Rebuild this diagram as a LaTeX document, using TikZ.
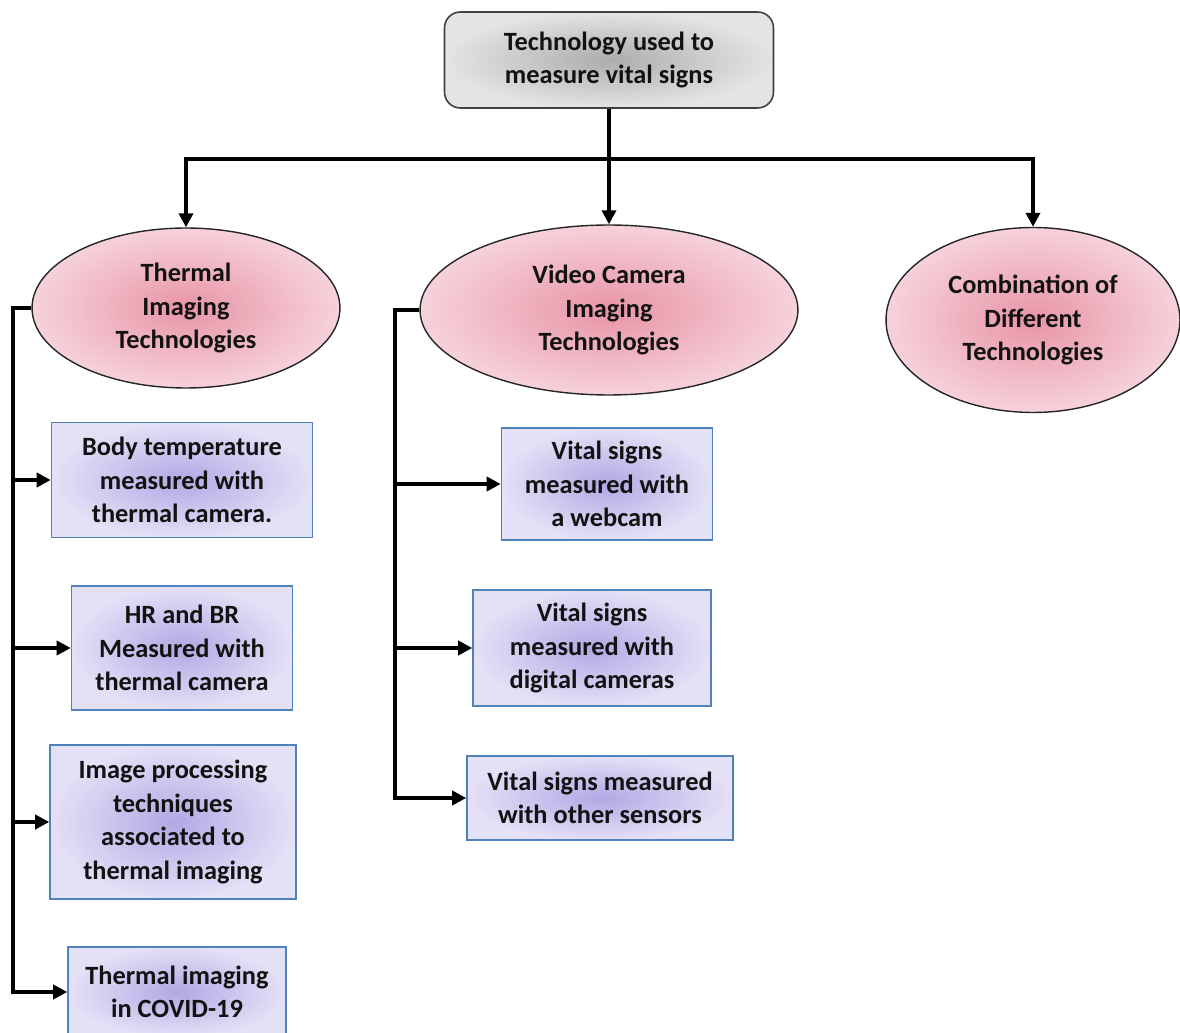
\documentclass[tikz,border=0pt]{standalone}
\usepackage{fontspec}
\setmainfont{Carlito}
\usetikzlibrary{arrows.meta, shapes.geometric}

\definecolor{itemline}{RGB}{79,129,189}
\definecolor{itemin}{RGB}{178,168,228}
\definecolor{itemout}{RGB}{228,224,246}
\definecolor{techin}{RGB}{232,148,166}
\definecolor{techout}{RGB}{246,210,218}
\definecolor{topin}{RGB}{172,172,172}
\definecolor{topout}{RGB}{228,228,228}
\definecolor{ink}{RGB}{18,18,18}

\begin{document}
\begin{tikzpicture}[x=0.02cm, y=-0.02cm, font=\fontsize{15}{19}\selectfont\bfseries, text=ink,
  arr/.style={line width=2.1pt, -{Triangle[length=8pt, width=8pt]}},
  topbox/.style={draw=black!75, line width=0.9pt, rounded corners=9pt, inner sep=0pt, align=center, inner color=topin, outer color=topout},
  tech/.style={ellipse, draw=black!85, line width=0.8pt, inner sep=0pt, align=center, inner color=techin, outer color=techout},
  item/.style={rectangle, draw=itemline, line width=0.9pt, inner sep=0pt, align=center, inner color=itemin, outer color=itemout}]

\clip (0,0) rectangle (1180,1033);

% root
\node[topbox, minimum width=6.58cm, minimum height=1.92cm] (root) at (609,60) {Technology used to\\measure vital signs};

% technology groups
\node[tech, minimum width=6.16cm, minimum height=3.2cm] (thermal) at (186,308) {Thermal\\Imaging\\Technologies};
\node[tech, minimum width=7.56cm, minimum height=3.4cm] (video) at (609,310) {Video Camera\\Imaging\\Technologies};
\node[tech, minimum width=5.88cm, minimum height=3.7cm] (combo) at (1033,320) {Combination of\\Different\\Technologies};

% thermal items
\node[item, minimum width=5.22cm, minimum height=2.3cm] (bodytemp) at (182,480) {Body temperature\\measured with\\thermal camera.};
\node[item, minimum width=4.42cm, minimum height=2.48cm] (hrbr) at (182,648) {HR and BR\\Measured with\\thermal camera};
\node[item, minimum width=4.92cm, minimum height=3.08cm] (imgproc) at (173,822) {Image processing\\techniques\\associated to\\thermal imaging};
\node[item, minimum width=4.36cm, minimum height=1.8cm] (covid) at (177,992) {Thermal imaging\\in COVID-19};

% video items
\node[item, minimum width=4.22cm, minimum height=2.24cm] (webcam) at (607,484) {Vital signs\\measured with\\a webcam};
\node[item, minimum width=4.76cm, minimum height=2.32cm] (digital) at (592,648) {Vital signs\\measured with\\digital cameras};
\node[item, minimum width=5.32cm, minimum height=1.68cm] (sensors) at (600,798) {Vital signs measured\\with other sensors};

% root to groups
\draw[arr] (root) -- (video);
\draw[arr] (root.south) -- ++(0,50) -| (thermal.north);
\draw[arr] (root.south) -- ++(0,50) -| (combo.north);

% groups to items
\foreach \b in {bodytemp, hrbr, imgproc, covid}
  \draw[arr] (thermal.west) -- ++(-18,0) |- (\b.west);
\foreach \b in {webcam, digital, sensors}
  \draw[arr] (video.west) -- ++(-24,0) |- (\b.west);

\end{tikzpicture}
\end{document}
